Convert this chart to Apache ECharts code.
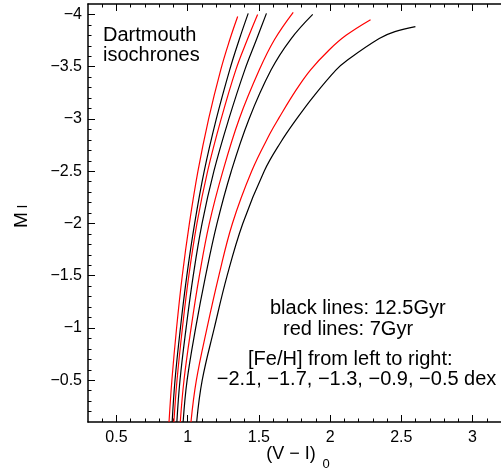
<!DOCTYPE html>
<html><head><meta charset="utf-8">
<script src="https://cdn.jsdelivr.net/npm/echarts@6/dist/echarts.min.js"></script>
<style>html,body{margin:0;padding:0;background:#fff}#c{width:501px;height:474px}</style>
</head><body><div id="c"></div>
<script>
// ---- data (V-I)_0 vs M_I ----
const red7Gyr_1 = [[0.869,-0.1],[0.889,-0.5],[0.922,-1.0],[0.962,-1.5],[1.012,-2.0],[1.072,-2.5],[1.147,-3.0],[1.232,-3.47],[1.296,-3.76],[1.351,-3.98]];
const black12Gyr_1 = [[0.891,-0.1],[0.911,-0.5],[0.949,-1.0],[0.994,-1.5],[1.049,-2.0],[1.116,-2.5],[1.201,-3.0],[1.295,-3.47],[1.362,-3.76],[1.425,-4.01]];
const red7Gyr_2 = [[0.903,-0.1],[0.925,-0.5],[0.963,-1.0],[1.008,-1.5],[1.065,-2.0],[1.140,-2.5],[1.235,-3.0],[1.338,-3.47],[1.419,-3.76],[1.491,-4.0]];
const black12Gyr_2 = [[0.924,-0.1],[0.946,-0.5],[0.989,-1.0],[1.039,-1.5],[1.101,-2.0],[1.184,-2.5],[1.289,-3.0],[1.401,-3.47],[1.483,-3.76],[1.553,-4.01]];
const red7Gyr_3 = [[0.948,-0.1],[0.974,-0.5],[1.024,-1.0],[1.082,-1.5],[1.152,-2.0],[1.247,-2.5],[1.362,-3.0],[1.503,-3.47],[1.610,-3.76],[1.741,-4.02]];
const black12Gyr_3 = [[0.968,-0.1],[0.996,-0.5],[1.056,-1.0],[1.126,-1.5],[1.206,-2.0],[1.306,-2.5],[1.431,-3.0],[1.586,-3.47],[1.722,-3.76],[1.878,-4.0]];
const red7Gyr_4 = [[1.023,-0.1],[1.061,-0.5],[1.136,-1.0],[1.219,-1.5],[1.314,-2.0],[1.449,-2.5],[1.578,-2.86],[1.641,-3.01],[1.763,-3.28],[1.863,-3.47],[1.993,-3.66],[2.112,-3.80],[2.284,-3.95]];
const black12Gyr_4 = [[1.063,-0.1],[1.102,-0.5],[1.187,-1.0],[1.277,-1.5],[1.387,-2.0],[1.537,-2.5],[1.650,-2.77],[1.770,-3.01],[1.880,-3.21],[2.042,-3.47],[2.118,-3.56],[2.345,-3.77],[2.455,-3.835],[2.599,-3.883]];

const xMajorTicks = [0.5,1,1.5,2,2.5,3];
const xMinorTicks = [0.4,0.6,0.7,0.8,0.9,1.1,1.2,1.3,1.4,1.6,1.7,1.8,1.9,2.1,2.2,2.3,2.4,2.6,2.7,2.8,2.9,3.1];
const yMajorTicks = [-4,-3.5,-3,-2.5,-2,-1.5,-1,-0.5];
const yMinorTicks = [-3.9,-3.8,-3.7,-3.6,-3.4,-3.3,-3.2,-3.1,-2.9,-2.8,-2.7,-2.6,-2.4,-2.3,-2.2,-2.1,-1.9,-1.8,-1.7,-1.6,-1.4,-1.3,-1.2,-1.1,-0.9,-0.8,-0.7,-0.6,-0.4,-0.3,-0.2];

const FONT = 'Liberation Sans, Arial, Helvetica, sans-serif';
const fmt = v => String(v).replace('-', '\u2212');

function xAx(pos, ticks, len, showLine, showLabel) {
  return {
    type: 'value', position: pos, min: 0.3, max: 3.2, gridIndex: 0,
    axisLine: { show: showLine, onZero: false, lineStyle: { color: '#000', width: 1.5 } },
    axisTick: { show: true, inside: true, length: len, customValues: ticks, lineStyle: { color: '#000', width: 1 } },
    axisLabel: { show: showLabel, customValues: ticks, formatter: fmt, color: '#000', fontSize: 16, fontFamily: FONT, margin: 8 },
    splitLine: { show: false }, minorTick: { show: false }
  };
}
function yAx(ticks, len, showLine, showLabel) {
  return {
    type: 'value', position: 'left', min: -4.1, max: -0.1, inverse: true, gridIndex: 0,
    axisLine: { show: showLine, onZero: false, lineStyle: { color: '#000', width: 1.5 } },
    axisTick: { show: true, inside: true, length: len, customValues: ticks, lineStyle: { color: '#000', width: 1 } },
    axisLabel: { show: showLabel, customValues: ticks, formatter: fmt, color: '#000', fontSize: 16, fontFamily: FONT, margin: 6 },
    splitLine: { show: false }, minorTick: { show: false }
  };
}
function line(data, color) {
  return { type: 'line', data: data, xAxisIndex: 0, yAxisIndex: 0, showSymbol: false, symbol: 'none', smooth: 0.4,
           lineStyle: { color: color, width: 1.2 }, silent: true, animation: false, z: color === '#000' ? 3 : 2 };
}

const chart = echarts.init(document.getElementById('c'), null, { renderer: 'canvas' });
chart.setOption({
  animation: false,
  backgroundColor: '#fff',
  grid: { left: 88, top: 4, width: 419.2, height: 418, containLabel: false, show: false },
  xAxis: [ xAx('bottom', xMajorTicks, 7, true, true), xAx('bottom', xMinorTicks, 3.5, false, false),
           xAx('top', xMajorTicks, 7, true, false), xAx('top', xMinorTicks, 3.5, false, false) ],
  yAxis: [ yAx(yMajorTicks, 7, true, true), yAx(yMinorTicks, 3.5, false, false) ],
  series: [
    line(red7Gyr_1, '#ff0000'), line(black12Gyr_1, '#000'),
    line(red7Gyr_2, '#ff0000'), line(black12Gyr_2, '#000'),
    line(red7Gyr_3, '#ff0000'), line(black12Gyr_3, '#000'),
    line(red7Gyr_4, '#ff0000'), line(black12Gyr_4, '#000')
  ],
  graphic: [
    { type: 'text', x: 21.5, y: 220, rotation: Math.PI / 2, style: { text: 'M', font: '19px ' + FONT, fill: '#000', align: 'center', verticalAlign: 'middle' } },
    { type: 'text', x: 23, y: 206.5, rotation: Math.PI / 2, style: { text: 'I', font: '14px ' + FONT, fill: '#000', align: 'center', verticalAlign: 'middle' } },
    { type: 'text', x: 291, y: 454, style: { text: '(V \u2212 I)', font: '18px ' + FONT, fill: '#000', align: 'center', verticalAlign: 'middle' } },
    { type: 'text', x: 326, y: 464, style: { text: '0', font: '13px ' + FONT, fill: '#000', align: 'center', verticalAlign: 'middle' } },
    { type: 'text', x: 103, y: 35.5, style: { text: 'Dartmouth', font: '20px ' + FONT, fill: '#000', align: 'left', verticalAlign: 'middle' } },
    { type: 'text', x: 103, y: 55.5, style: { text: 'isochrones', font: '20px ' + FONT, fill: '#000', align: 'left', verticalAlign: 'middle' } },
    { type: 'text', x: 270, y: 308.8, style: { text: 'black lines: 12.5Gyr', font: '20px ' + FONT, fill: '#000', align: 'left', verticalAlign: 'middle' } },
    { type: 'text', x: 283, y: 329.5, style: { text: 'red lines: 7Gyr', font: '20px ' + FONT, fill: '#000', align: 'left', verticalAlign: 'middle' } },
    { type: 'text', x: 248, y: 359.8, style: { text: '[Fe/H] from left to right:', font: '20px ' + FONT, fill: '#000', align: 'left', verticalAlign: 'middle' } },
    { type: 'text', x: 216.7, y: 379.8, style: { text: '\u22122.1, \u22121.7, \u22121.3, \u22120.9, \u22120.5 dex', font: '20px ' + FONT, fill: '#000', align: 'left', verticalAlign: 'middle' } }
  ]
});
</script></body></html>
